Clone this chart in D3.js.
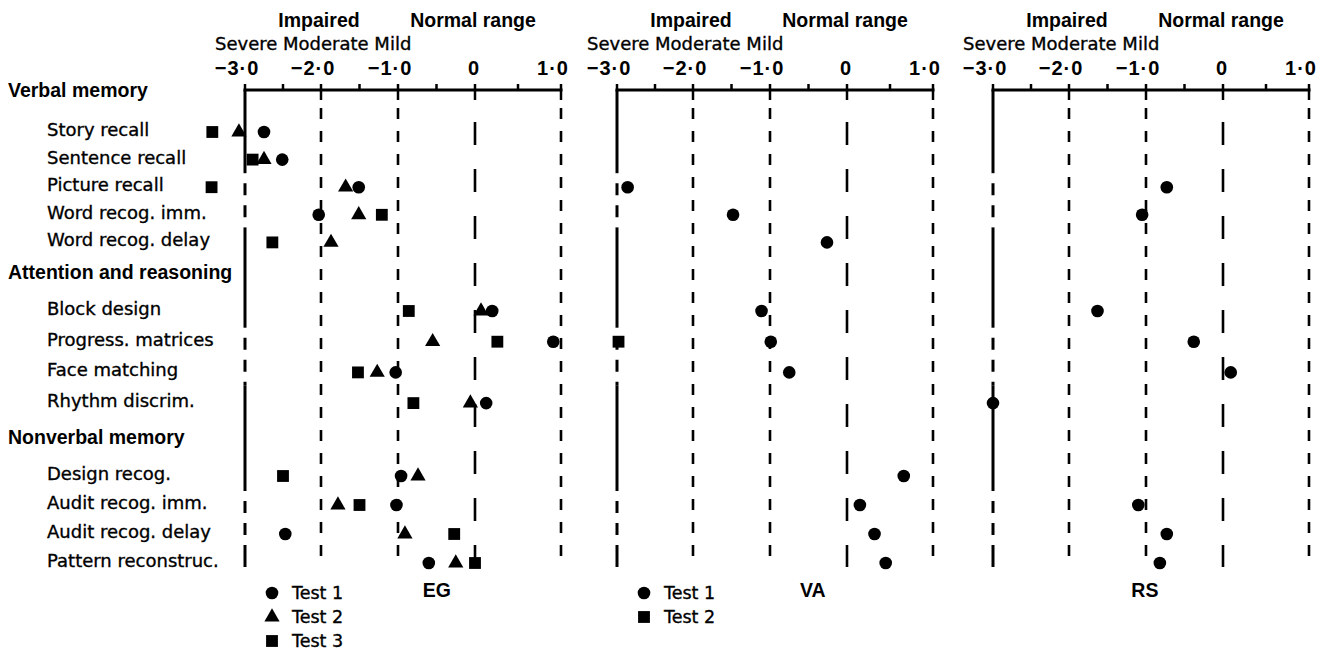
<!DOCTYPE html>
<html><head><meta charset="utf-8">
<script src="https://cdn.jsdelivr.net/npm/d3@7"></script>
<style>
html,body{margin:0;padding:0;background:#fff;}
svg{display:block;}
.reg{font-family:"DejaVu Sans",sans-serif;fill:#000;stroke:#000;stroke-width:0.35px;}
.bold{font-family:"Liberation Sans",Arial,sans-serif;font-weight:bold;fill:#000;}
</style></head><body>
<svg id="chart" width="1338" height="653"></svg>
<script>
// ---------- data ----------
const rowLabels = ["Story recall","Sentence recall","Picture recall","Word recog. imm.","Word recog. delay",
  "Block design","Progress. matrices","Face matching","Rhythm discrim.",
  "Design recog.","Audit recog. imm.","Audit recog. delay","Pattern reconstruc."];
const sectionNames = ["Verbal memory","Attention and reasoning","Nonverbal memory"];
const rowSection = [0,0,0,0,0,1,1,1,1,2,2,2,2];
const tickValues = [-3,-2.5,-2,-1.5,-1,-0.5,0,0.5,1];
const labeledTicks = [-3,-2,-1,0,1];
const tickLabels = ["\u22123\u00B70","\u22122\u00B70","\u22121\u00B70","0","1\u00B70"];
const panelNames = ["EG","VA","RS"];
const testLabels = ["Test 1","Test 2","Test 3"];

// EG
const egTest1 = [-2.75,-2.51,-1.51,-2.03,null, 0.20, 0.91,-1.03, 0.13,-0.96,-1.02,-2.47,-0.60];
const egTest2 = [-3.08,-2.75,-1.68,-1.51,-1.87, 0.07,-0.55,-1.27,-0.06,-0.74,-1.78,-0.91,-0.25];
const egTest3 = [-3.43,-2.90,-3.44,-1.21,-2.64,-0.86, 0.26,-1.52,-0.80,-2.50,-1.50,-0.27, 0.00];
// VA
const vaTest1 = [null,null,-2.86,-1.48,-0.26,-1.11,-0.99,-0.75,null, 0.66, 0.15, 0.32, 0.45];
const vaTest2 = [null,null,null,null,null,null,-2.98,null,null,null,null,null,null];
// RS
const rsTest1 = [null,null,-0.73,-1.05,null,-1.63,-0.38, 0.09,-3.00,null,-1.10,-0.73,-0.82];

const panels = [
  {name: panelNames[0], series: [egTest1, egTest2, egTest3], shapes: ["circle","triangle","square"], legend: true,  nameAt: -0.68},
  {name: panelNames[1], series: [vaTest1, vaTest2],          shapes: ["circle","square"],             legend: true,  nameAt: -0.61},
  {name: panelNames[2], series: [rsTest1],                   shapes: ["circle"],                      legend: false, nameAt: -1.19}
];

// ---------- layout ----------
const svg = d3.select("#chart");
const panelX0 = [245, 617, 993];
const relRange = [0, 76, 153, 230, 316];
const axisY = 90, lineBottom = 567;
const sectionHeaderY = [91, 273, 438];
const sectionFirstY = [132, 311, 476];
const sectionStep = [27.6, 30.7, 29];

function rowY(i) {
  const s = rowSection[i];
  const first = rowSection.indexOf(s);
  return sectionFirstY[s] + (i - first) * sectionStep[s];
}

const symbolType = {circle: d3.symbolCircle, triangle: d3.symbolTriangle, square: d3.symbolSquare};
const symbolSize = {circle: 125, triangle: 100, square: 140};
const sym = t => d3.symbol().type(symbolType[t]).size(symbolSize[t])();

// row labels
sectionNames.forEach((name, s) => {
  svg.append("text").attr("class","bold").attr("x", 8).attr("y", sectionHeaderY[s] + 6)
    .style("font-size","19.5px").text(name);
});
rowLabels.forEach((name, i) => {
  svg.append("text").attr("class","reg").attr("x", 47).attr("y", rowY(i) + 4)
    .style("font-size","18px").text(name);
});

panels.forEach((p, pi) => {
  const x = d3.scaleLinear().domain(labeledTicks).range(relRange.map(r => r + panelX0[pi]));
  const g = svg.append("g");

  // header texts
  g.append("text").attr("class","bold").attr("x", x(-2) - 2).attr("y", 27)
    .attr("text-anchor","middle").style("font-size","19.5px").text("Impaired");
  g.append("text").attr("class","bold").attr("x", x(0) - 2).attr("y", 27)
    .attr("text-anchor","middle").style("font-size","19.5px").text("Normal range");
  g.append("text").attr("class","reg").attr("x", x(-3) - 30).attr("y", 50)
    .style("font-size","18px").text("Severe Moderate Mild");

  // tick labels
  labeledTicks.forEach((v, k) => {
    g.append("text").attr("class","bold").attr("x", x(v) + (v === 0 ? -1 : -8)).attr("y", 75)
      .attr("text-anchor","middle").style("font-size","20px").style("letter-spacing","1px")
      .text(tickLabels[k]);
  });

  // axis line and ticks
  g.append("line").attr("x1", x(-3) - 1.5).attr("x2", x(1) + 1.5).attr("y1", axisY).attr("y2", axisY)
    .attr("stroke","#000").attr("stroke-width", 3);
  tickValues.forEach(v => {
    const isInt = Number.isInteger(v) && v > -3;
    g.append("line").attr("x1", x(v)).attr("x2", x(v)).attr("y1", axisY - 6).attr("y2", axisY + (isInt ? 10 : 0))
      .attr("stroke","#000").attr("stroke-width", 2.5);
  });

  // -3 line: solid with dashed stretches
  const dashedPairs = [[2,3],[6,7],[10,11]];
  let cur = axisY;
  dashedPairs.forEach(([a,b]) => {
    const ds = rowY(a) - 14, de = rowY(b) + 13;
    g.append("line").attr("x1", x(-3)).attr("x2", x(-3)).attr("y1", cur).attr("y2", ds)
      .attr("stroke","#000").attr("stroke-width", 3);
    g.append("line").attr("x1", x(-3)).attr("x2", x(-3)).attr("y1", ds).attr("y2", de)
      .attr("stroke","#000").attr("stroke-width", 3).attr("stroke-dasharray","12 10").attr("stroke-dashoffset", 12);
    cur = de;
  });
  g.append("line").attr("x1", x(-3)).attr("x2", x(-3)).attr("y1", cur).attr("y2", lineBottom)
    .attr("stroke","#000").attr("stroke-width", 3);

  // short-dash lines
  [-2, -1, 1].forEach(v => {
    g.append("line").attr("x1", x(v)).attr("x2", x(v)).attr("y1", 108).attr("y2", lineBottom)
      .attr("stroke","#000").attr("stroke-width", 2.6).attr("stroke-dasharray","11 12");
  });
  // long-dash zero line
  g.append("line").attr("x1", x(0)).attr("x2", x(0)).attr("y1", 122).attr("y2", lineBottom)
    .attr("stroke","#000").attr("stroke-width", 2.6).attr("stroke-dasharray","23 24");

  // markers
  p.series.forEach((vals, si) => {
    const pts = vals.map((v, i) => ({v, i})).filter(d => d.v !== null);
    g.selectAll(null).data(pts).enter().append("path")
      .attr("d", sym(p.shapes[si]))
      .attr("transform", d => `translate(${x(d.v)},${rowY(d.i)})`)
      .attr("fill","#000");
  });

  // panel name
  g.append("text").attr("class","bold").attr("x", x(p.nameAt)).attr("y", 597)
    .style("font-size","19.5px").text(p.name);

  // legend
  if (p.legend) {
    p.shapes.forEach((shape, si) => {
      const ly = 593 + si * 24;
      g.append("path").attr("d", sym(shape)).attr("transform", `translate(${x(-3) + 27},${ly})`).attr("fill","#000");
      g.append("text").attr("class","reg").attr("x", x(-3) + 47).attr("y", ly + 6)
        .style("font-size","17.5px").text(testLabels[si]);
    });
  }
});
</script>
</body></html>
